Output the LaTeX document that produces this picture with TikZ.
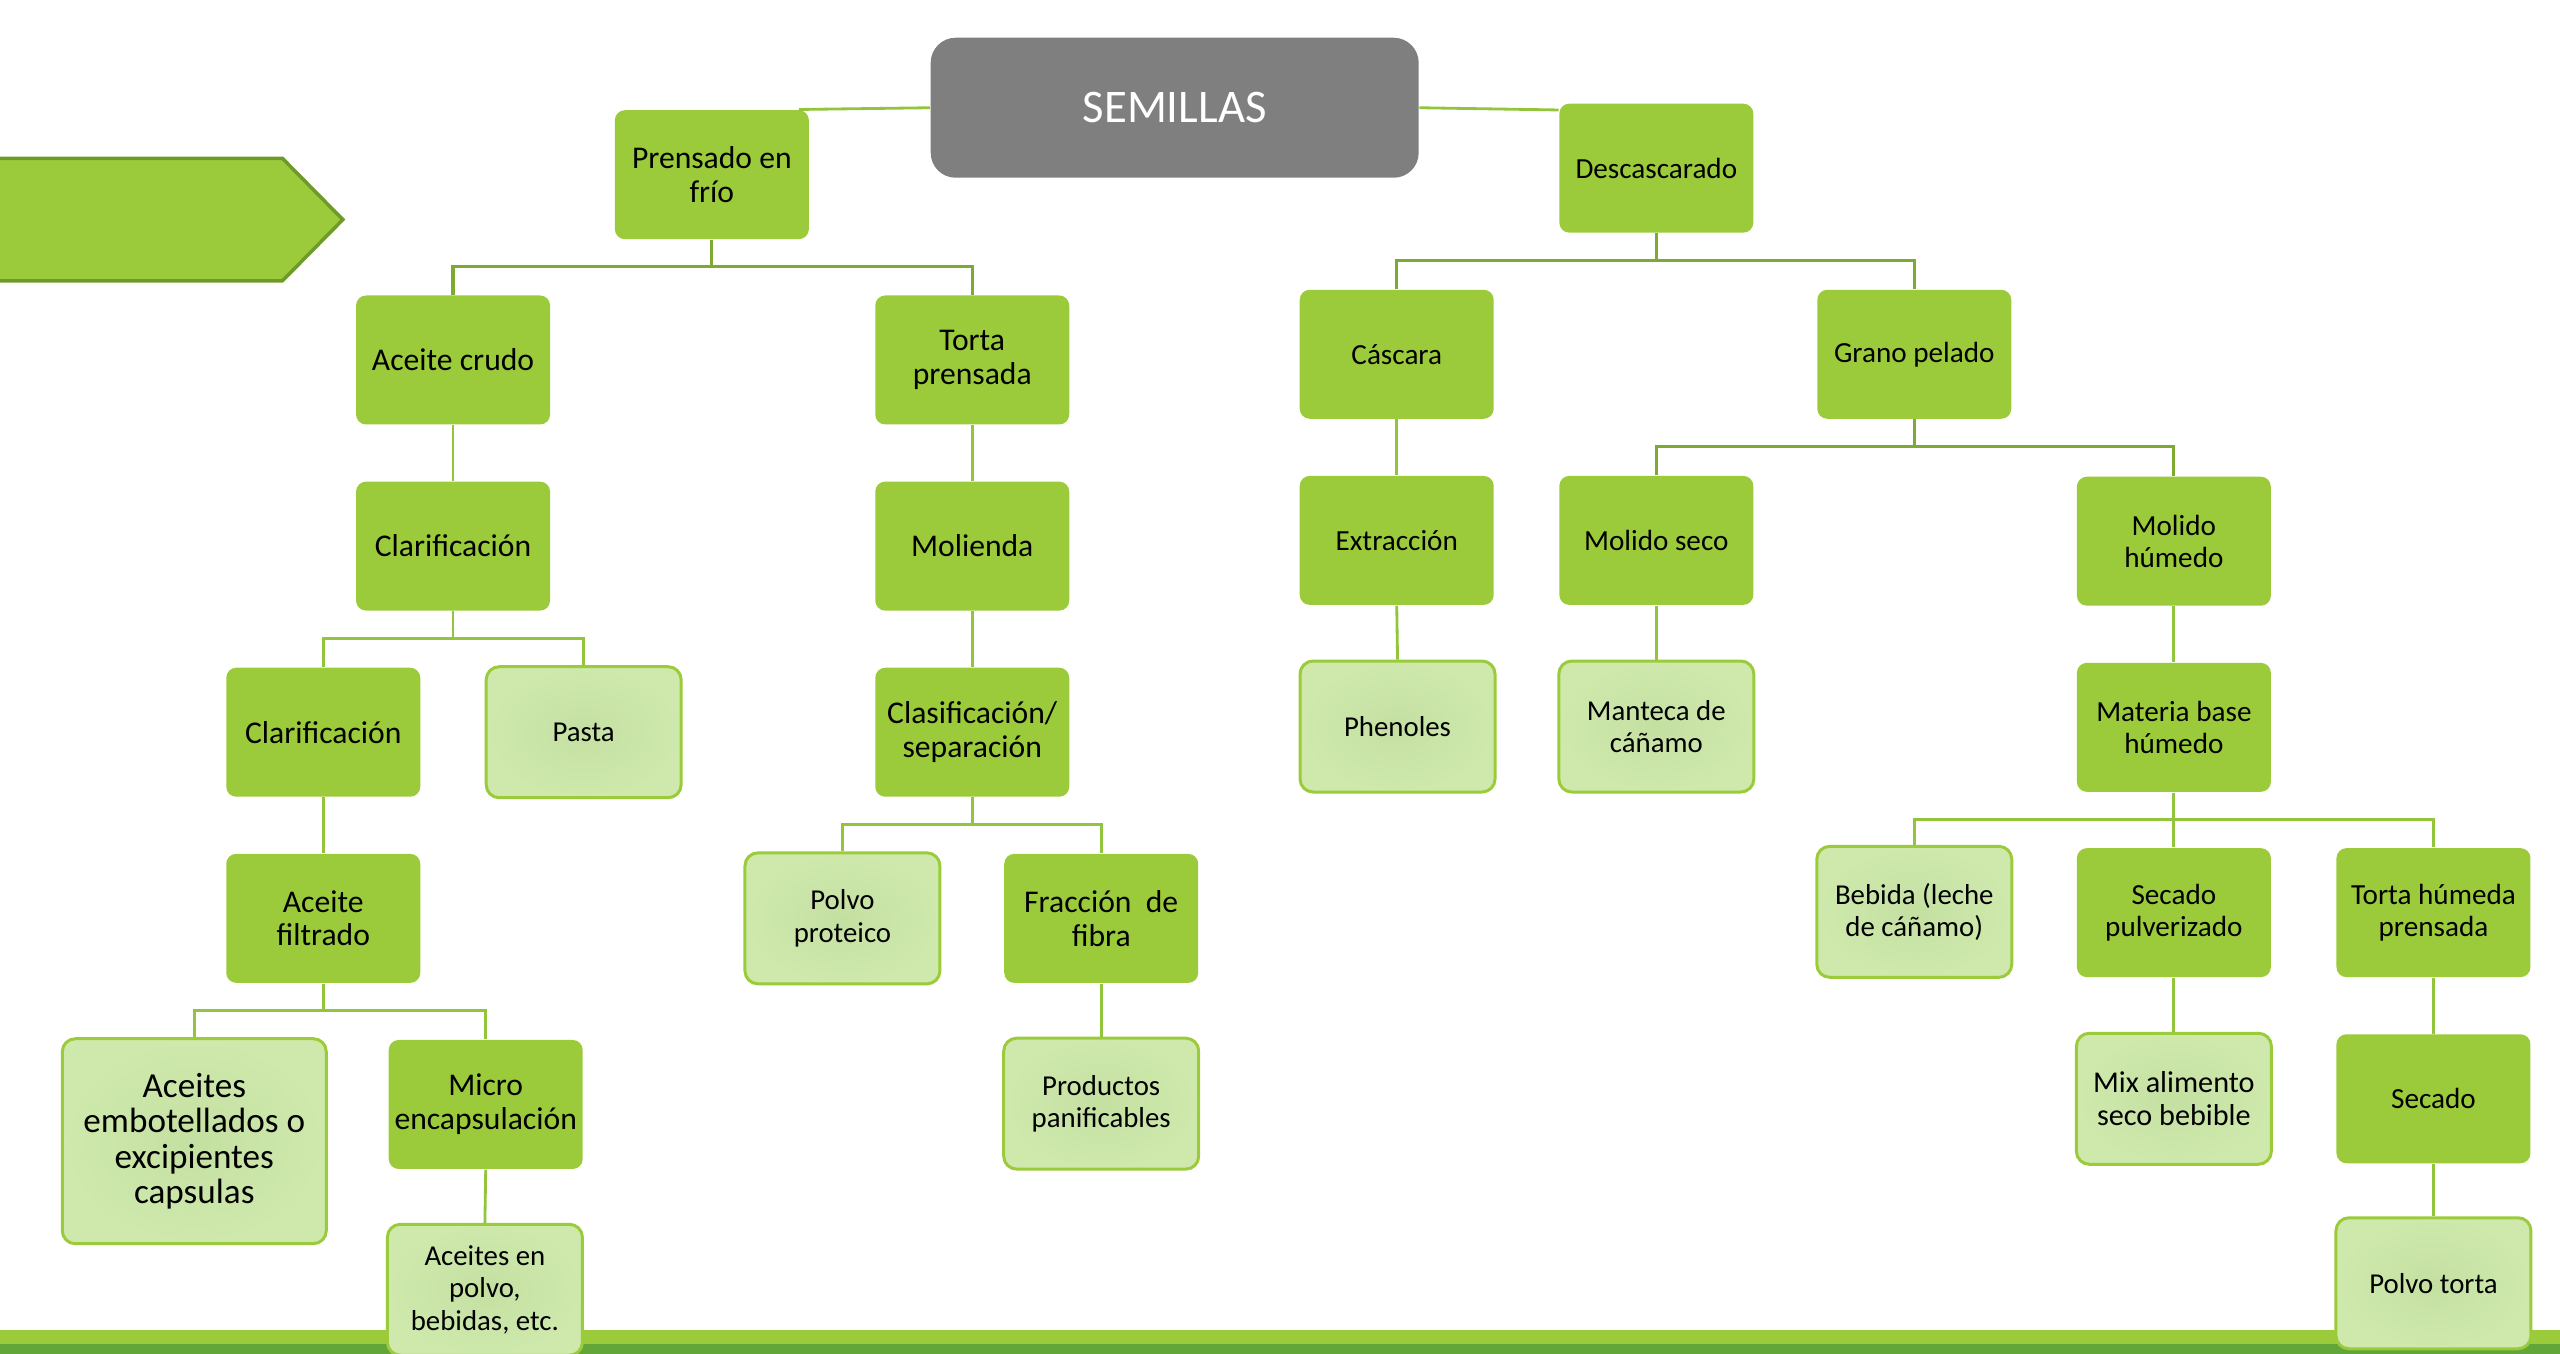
\documentclass[tikz,border=0pt]{standalone}
\usepackage{fontspec}
\setmainfont{Carlito}
\usetikzlibrary{positioning}

\definecolor{leafgreen}{HTML}{9BCB3B}
\definecolor{bandgreen}{HTML}{62A539}
\definecolor{olivegreen}{HTML}{7EA932}
\definecolor{linkgreen}{HTML}{93C53C}
\definecolor{paleinner}{HTML}{C4E0A1}
\definecolor{paleouter}{HTML}{CFE9AD}
\definecolor{arrowedge}{HTML}{6E9A2A}
\definecolor{seedgray}{HTML}{7F7F7F}

\tikzset{
    procbox/.style={rounded corners=0.1cm, fill=leafgreen, minimum width=1.94cm,
        minimum height=1.29cm, align=center, inner sep=1pt,
        font=\fontsize{9}{9.6}\selectfont},
    rprocbox/.style={procbox, font=\fontsize{8.3}{9}\selectfont},
    prodbox/.style={rounded corners=0.13cm, draw=leafgreen, line width=0.85pt,
        inner color=paleinner, outer color=paleouter, minimum width=1.95cm,
        minimum height=1.31cm, align=center, inner sep=1pt,
        font=\fontsize{8.2}{9.2}\selectfont},
    link/.style={draw=linkgreen, line width=0.8pt},
    mainlink/.style={draw=olivegreen, line width=0.9pt}
}

\begin{document}
\begin{tikzpicture}[x=0.01633cm, y=-0.01633cm]
    \useasboundingbox (0,0) rectangle (1568,829);

    % Bottom bands
    \fill[leafgreen] (0,814.6) rectangle (1568,823.2);
    \fill[bandgreen] (0,823.2) rectangle (1568,832);

    % Side arrow
    \draw[fill=leafgreen, draw=arrowedge, line width=1pt]
        (-3,97) -- (173,97) -- (210,134.5) -- (173,172) -- (-3,172) -- cycle;

    % Root
    \node[rounded corners=0.25cm, fill=seedgray, text=white, minimum width=4.88cm,
        minimum height=1.40cm, font=\fontsize{13.3}{15}\selectfont]
        (semillas) at (719.5,66) {SEMILLAS};

    % Left branch: prensado en frio
    \node[procbox] (prensado) at (436,107) {Prensado en\\frío};
    \node[procbox] (crudo) at (277.5,220.5) {Aceite crudo};
    \node[procbox] (torta) at (595.5,220.5) {Torta\\prensada};
    \node[procbox] (clarif) at (277.5,334.5) {Clarificación};
    \node[procbox] (molienda) at (595.5,334.5) {Molienda};
    \node[procbox] (clarifb) at (198,448.5) {Clarificación};
    \node[prodbox] (pasta) at (357.5,448.5) {Pasta};
    \node[procbox] (clasif) at (595.5,448.5) {Clasificación/\\separación};
    \node[prodbox] (proteico) at (516,562.5) {Polvo\\proteico};
    \node[procbox] (fibra) at (674.5,562.5) {Fracción~ de\\fibra};
    \node[prodbox] (panif) at (674.5,676) {Productos\\panificables};
    \node[procbox] (filtrado) at (198,562.5) {Aceite\\filtrado};
    \node[prodbox, minimum width=2.64cm, minimum height=2.05cm,
        font=\fontsize{10}{10.1}\selectfont]
        (embot) at (119,699) {Aceites\\embotellados o\\excipientes\\capsulas};
    \node[procbox] (micro) at (297.5,676.5) {Micro\\encapsulación};
    \node[prodbox] (enpolvo) at (297,790) {Aceites en\\polvo,\\bebidas, etc.};

    % Right branch: descascarado
    \node[rprocbox] (descasc) at (1014.5,103) {Descascarado};
    \node[rprocbox] (cascara) at (855.5,217) {Cáscara};
    \node[rprocbox] (grano) at (1172.5,217) {Grano pelado};
    \node[rprocbox] (extrac) at (855.5,331) {Extracción};
    \node[prodbox] (phenol) at (856,445) {Phenoles};
    \node[rprocbox] (seco) at (1014.5,331) {Molido seco};
    \node[prodbox] (manteca) at (1014.5,445) {Manteca de\\cáñamo};
    \node[rprocbox] (humedo) at (1331.5,331.5) {Molido\\húmedo};
    \node[rprocbox] (materia) at (1331.5,445.5) {Materia base\\húmedo};
    \node[prodbox] (bebida) at (1172.5,558.5) {Bebida (leche\\de cáñamo)};
    \node[rprocbox] (pulver) at (1331.5,559) {Secado\\pulverizado};
    \node[rprocbox] (tortah) at (1490.5,559) {Torta húmeda\\prensada};
    \node[prodbox, font=\fontsize{8.6}{9.4}\selectfont]
        (mix) at (1331.5,673) {Mix alimento\\seco bebible};
    \node[rprocbox] (secado) at (1490.5,673) {Secado};
    \node[prodbox] (ptorta) at (1490.5,786) {Polvo torta};

    % Root links
    \draw[link] (semillas.west) -- ([xshift=-3pt]prensado.north east);
    \draw[link] (semillas.east) -- ([yshift=-2pt]descasc.north west);

    % Forks
    \foreach \p/\c in {prensado/crudo, prensado/torta, descasc/cascara,
        descasc/grano, grano/seco, grano/humedo} {
        \draw[mainlink] (\p.south) -- ++(0,16.5) -| (\c.north);
    }
    \foreach \p/\c in {clarif/clarifb, clarif/pasta, clasif/proteico,
        clasif/fibra, filtrado/embot, filtrado/micro, materia/bebida,
        materia/pulver, materia/tortah} {
        \draw[link] (\p.south) -- ++(0,16.5) -| (\c.north);
    }

    % Single steps
    \foreach \p/\c in {crudo/clarif, torta/molienda, molienda/clasif,
        fibra/panif, clarifb/filtrado, micro/enpolvo, cascara/extrac,
        extrac/phenol, seco/manteca, humedo/materia, pulver/mix,
        tortah/secado, secado/ptorta} {
        \draw[link] (\p.south) -- (\c.north);
    }
\end{tikzpicture}
\end{document}
